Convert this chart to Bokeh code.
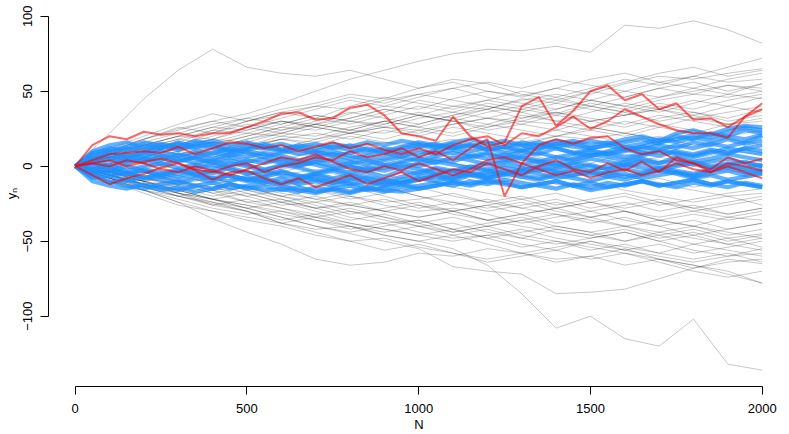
from bokeh.plotting import figure
from bokeh.models import Range1d, FixedTicker
from bokeh.embed import file_html
from bokeh.resources import INLINE

# step index grids
steps_100 = [0, 100, 200, 300, 400, 500, 600, 700, 800, 900, 1000,
             1100, 1200, 1300, 1400, 1500, 1600, 1700, 1800, 1900, 2000]
steps_50 = [0, 50, 100, 150, 200, 250, 300, 350, 400, 450, 500, 550, 600, 650,
            700, 750, 800, 850, 900, 950, 1000, 1050, 1100, 1150, 1200, 1250,
            1300, 1350, 1400, 1450, 1500, 1550, 1600, 1650, 1700, 1750, 1800,
            1850, 1900, 1950, 2000]

x_ticks = [0, 500, 1000, 1500, 2000]
y_ticks = [-100, -50, 0, 50, 100]

# grey walks (values read at every 100 steps)
gray_01 = [0, -6, -12, -20, -25, -30, -38, -42, -40, -46, -50, -55, -66, -85, -108, -100, -115, -120, -102, -132, -136]
gray_02 = [0, -5, -10, -18, -22, -28, -34, -40, -45, -50, -55, -67, -70, -72, -85, -84, -82, -75, -68, -62, -65]
gray_03 = [0, -8, -16, -24, -35, -44, -52, -62, -66, -64, -58, -60, -55, -58, -62, -60, -55, -62, -66, -72, -78]
gray_04 = [0, 22, 45, 64, 78, 66, 62, 60, 64, 58, 52, 56, 50, 46, 52, 58, 62, 56, 60, 66, 72]
gray_05 = [0, 10, 18, 25, 30, 35, 42, 50, 58, 64, 70, 75, 78, 77, 80, 76, 94, 92, 97, 91, 82]
gray_06 = [0, 8, 14, 20, 18, 26, 30, 28, 35, 40, 38, 45, 50, 47, 52, 48, 55, 60, 58, 62, 65]
gray_07 = [0, 6, 10, 16, 24, 22, 28, 34, 30, 36, 44, 40, 38, 45, 42, 50, 46, 52, 56, 50, 55]
gray_08 = [0, 10, 16, 22, 28, 32, 38, 42, 48, 45, 52, 58, 55, 48, 44, 50, 56, 62, 66, 60, 64]
gray_09 = [0, 4, 12, 18, 15, 20, 26, 24, 30, 28, 34, 30, 36, 40, 35, 42, 38, 44, 48, 46, 50]
gray_10 = [0, 12, 20, 28, 35, 30, 34, 40, 38, 44, 48, 52, 46, 42, 38, 44, 40, 36, 42, 48, 45]
gray_11 = [0, 6, 4, 10, 16, 14, 20, 18, 24, 22, 28, 34, 38, 32, 36, 30, 34, 38, 32, 36, 40]
gray_12 = [0, 2, 8, 14, 10, 16, 12, 18, 22, 26, 24, 20, 26, 30, 28, 24, 30, 26, 32, 28, 30]
gray_13 = [0, 8, 12, 10, 16, 22, 20, 26, 22, 18, 24, 28, 32, 30, 36, 32, 28, 34, 30, 26, 22]
gray_14 = [0, -2, 4, 8, 6, 12, 10, 6, 12, 16, 14, 18, 12, 16, 20, 18, 22, 18, 14, 18, 15]
gray_15 = [0, 4, 2, -4, 2, 6, 4, 10, 8, 4, 10, 6, 12, 8, 4, 8, 12, 8, 4, 10, 8]
gray_16 = [0, -4, -2, 4, 0, -6, -2, 2, -4, 0, 6, 2, -2, 4, 0, -4, 2, 6, 2, -2, 0]
gray_17 = [0, -6, -10, -6, -12, -8, -14, -10, -6, -12, -8, -4, -10, -6, -12, -16, -12, -8, -14, -10, -6]
gray_18 = [0, -4, -8, -14, -10, -16, -20, -16, -22, -18, -14, -20, -24, -20, -26, -22, -18, -24, -28, -24, -20]
gray_19 = [0, -8, -12, -18, -22, -18, -24, -28, -26, -30, -34, -30, -36, -32, -28, -34, -30, -36, -40, -34, -30]
gray_20 = [0, -6, -14, -20, -16, -24, -28, -34, -30, -36, -40, -38, -44, -48, -42, -46, -50, -44, -48, -52, -48]
gray_21 = [0, -10, -16, -22, -28, -32, -30, -36, -42, -38, -44, -48, -46, -52, -56, -50, -54, -58, -52, -56, -60]
gray_22 = [0, -4, -10, -16, -22, -26, -32, -36, -40, -44, -40, -46, -42, -48, -52, -48, -44, -50, -56, -60, -55]
gray_23 = [0, -8, -14, -12, -18, -24, -22, -28, -34, -38, -36, -42, -38, -34, -40, -44, -40, -46, -42, -48, -45]
gray_24 = [0, -6, -4, -10, -16, -14, -20, -24, -20, -26, -30, -28, -32, -38, -34, -30, -36, -40, -36, -42, -38]
gray_25 = [0, -2, -8, -12, -8, -14, -10, -16, -20, -24, -22, -18, -24, -28, -24, -30, -26, -22, -28, -32, -28]
gray_26 = [0, -10, -18, -26, -30, -36, -40, -46, -50, -48, -54, -58, -62, -58, -64, -60, -66, -62, -68, -64, -62]
gray_27 = [0, -6, -12, -18, -26, -30, -38, -44, -50, -56, -52, -58, -64, -60, -56, -62, -58, -64, -70, -74, -70]
gray_28 = [0, 6, 2, 8, 4, 0, -6, -2, -8, -12, -8, -14, -18, -22, -18, -24, -28, -24, -30, -34, -36]
gray_29 = [0, -4, 2, 6, 12, 8, 14, 10, 4, 0, 6, 2, -4, -8, -4, -10, -6, -12, -16, -20, -18]
gray_30 = [0, 8, 4, 10, 6, 12, 18, 14, 20, 16, 12, 8, 14, 10, 6, 2, 8, 4, 0, -4, -2]
gray_31 = [0, -4, -10, -6, -2, -8, -4, 2, -2, 4, 8, 12, 16, 14, 20, 24, 20, 26, 22, 28, 25]
gray_32 = [0, 4, 10, 6, 12, 18, 22, 28, 32, 38, 34, 40, 44, 40, 46, 52, 58, 54, 60, 56, 58]
gray_33 = [0, -6, -12, -10, -14, -20, -26, -24, -30, -34, -40, -44, -40, -46, -50, -54, -58, -62, -66, -70, -78]
gray_34 = [0, 6, 12, 8, 14, 20, 26, 32, 28, 34, 40, 36, 32, 38, 44, 40, 36, 30, 34, 28, 32]
gray_35 = [0, -4, -8, -12, -18, -14, -20, -26, -32, -28, -24, -30, -26, -32, -28, -24, -20, -26, -22, -18, -15]
gray_36 = [0, 6, 10, 14, 20, 26, 22, 28, 24, 30, 26, 22, 28, 24, 20, 26, 22, 18, 24, 20, 24]
gray_37 = [0, 10, 18, 26, 22, 30, 36, 32, 40, 46, 42, 38, 44, 50, 46, 40, 46, 52, 48, 54, 50]
gray_38 = [0, 8, 16, 14, 22, 28, 24, 30, 36, 32, 28, 34, 40, 36, 30, 36, 42, 38, 44, 40, 46]
gray_39 = [0, 6, 14, 20, 26, 24, 30, 26, 32, 38, 34, 30, 24, 28, 34, 30, 26, 32, 36, 32, 38]
gray_40 = [0, 4, 10, 16, 12, 18, 24, 28, 24, 30, 26, 32, 28, 34, 30, 26, 22, 28, 24, 18, 14]
gray_41 = [0, 10, 14, 20, 26, 32, 28, 34, 30, 26, 32, 36, 42, 38, 34, 40, 36, 42, 38, 44, 48]
gray_42 = [0, 6, 12, 18, 24, 30, 36, 40, 46, 42, 48, 44, 40, 36, 42, 38, 34, 40, 36, 30, 34]
gray_43 = [0, 2, 6, 12, 16, 12, 18, 22, 18, 24, 20, 26, 22, 18, 24, 20, 16, 20, 14, 10, 12]
gray_44 = [0, 8, 6, 12, 18, 16, 22, 20, 26, 30, 36, 32, 38, 44, 48, 44, 50, 46, 52, 58, 62]
gray_45 = [0, -8, -14, -20, -26, -22, -28, -32, -28, -34, -38, -34, -40, -36, -42, -46, -42, -48, -44, -50, -46]
gray_46 = [0, -6, -12, -16, -22, -28, -24, -30, -36, -32, -38, -44, -40, -36, -32, -38, -34, -40, -46, -42, -38]
gray_47 = [0, -10, -14, -18, -24, -30, -36, -32, -38, -42, -46, -50, -46, -42, -48, -52, -56, -52, -58, -54, -50]
gray_48 = [0, -4, -10, -14, -20, -16, -22, -28, -24, -30, -26, -32, -36, -32, -38, -34, -40, -36, -32, -36, -32]
gray_49 = [0, -8, -12, -16, -12, -18, -24, -20, -26, -22, -28, -24, -30, -26, -22, -28, -24, -30, -26, -32, -28]
gray_50 = [0, -6, -10, -16, -22, -26, -30, -34, -38, -42, -46, -42, -48, -54, -50, -56, -52, -58, -62, -58, -64]
gray_51 = [0, -2, -6, -10, -16, -20, -16, -22, -18, -14, -20, -26, -22, -28, -32, -36, -40, -44, -40, -46, -42]
gray_52 = [0, -8, -16, -20, -24, -28, -34, -40, -44, -40, -36, -42, -48, -44, -40, -44, -50, -46, -52, -48, -54]
gray_53 = [0, -4, -8, -4, -10, -14, -12, -18, -14, -20, -26, -30, -26, -22, -28, -24, -30, -34, -30, -26, -22]
gray_54 = [0, -6, -4, -10, -8, -14, -18, -22, -26, -30, -34, -30, -36, -40, -44, -48, -44, -50, -46, -52, -56]
gray_55 = [0, 4, 8, 4, 10, 14, 18, 16, 22, 26, 22, 28, 32, 28, 24, 30, 34, 38, 34, 40, 36]
gray_56 = [0, -4, 0, 6, 2, -4, -8, -12, -16, -14, -20, -24, -28, -24, -30, -34, -30, -36, -40, -44, -48]
gray_57 = [0, 6, 2, -2, 4, 8, 2, -4, 0, -6, -10, -6, -12, -8, -14, -10, -16, -20, -24, -20, -26]
gray_58 = [0, 8, 14, 12, 18, 24, 30, 26, 22, 28, 34, 30, 26, 32, 38, 44, 40, 46, 50, 54, 52]
gray_59 = [0, -10, -16, -24, -30, -34, -38, -34, -40, -46, -50, -46, -52, -58, -54, -50, -56, -60, -64, -60, -58]
gray_60 = [0, 12, 18, 24, 30, 26, 32, 38, 44, 40, 46, 52, 56, 52, 58, 54, 50, 56, 52, 48, 55]

# blue (bounded) walks, values read at every 50 steps
blue_01 = [0, 8, 12, 10, 14, 12, 16, 13, 15, 11, 14, 12, 10, 13, 15, 12, 14, 11, 9, 12, 14, 12, 15, 13, 16, 12, 14, 11, 15, 13, 12, 14, 16, 18, 15, 20, 18, 22, 20, 24, 22]
blue_02 = [0, 6, 4, 8, 6, 10, 7, 9, 5, 8, 6, 9, 7, 4, 6, 8, 5, 7, 9, 6, 10, 8, 11, 7, 9, 6, 10, 8, 12, 9, 7, 10, 13, 11, 14, 12, 16, 14, 18, 15, 17]
blue_03 = [0, 3, 6, 2, 5, 1, 4, 6, 3, 0, 4, 2, 5, 1, 3, 0, 2, 4, 1, 3, 5, 2, 6, 4, 1, 3, 6, 4, 2, 5, 8, 6, 4, 7, 10, 8, 6, 9, 12, 10, 8]
blue_04 = [0, -2, 1, -3, 0, 2, -1, 1, -2, 2, 0, -3, 1, -1, -4, -2, 0, -3, -1, 2, 0, 3, 1, -1, 2, 4, 1, 3, 0, 2, 5, 3, 1, 4, 2, 6, 3, 5, 8, 6, 4]
blue_05 = [0, -5, -3, -6, -2, -4, -7, -3, -5, -1, -4, -6, -3, -7, -5, -8, -6, -4, -7, -3, -5, -2, -4, -1, -3, -5, -2, 0, -3, -1, 1, -2, 0, 2, -1, 1, 3, 0, 2, -1, 1]
blue_06 = [0, -8, -6, -10, -7, -9, -12, -8, -10, -6, -9, -11, -8, -12, -10, -13, -11, -14, -10, -12, -9, -7, -10, -6, -8, -5, -7, -9, -6, -8, -10, -7, -5, -8, -6, -4, -7, -5, -3, -6, -4]
blue_07 = [0, -10, -13, -15, -12, -14, -16, -13, -15, -12, -14, -16, -15, -17, -14, -16, -18, -15, -17, -14, -13, -11, -13, -10, -12, -9, -11, -13, -15, -12, -14, -11, -13, -10, -12, -14, -11, -13, -10, -12, -14]
blue_08 = [0, 10, 14, 16, 12, 15, 13, 17, 14, 10, 12, 15, 11, 8, 10, 7, 9, 12, 10, 13, 16, 14, 12, 15, 11, 13, 16, 14, 17, 15, 12, 14, 11, 13, 16, 18, 21, 19, 23, 26, 24]
blue_09 = [0, 4, 8, 5, 9, 7, 3, 6, 9, 7, 10, 8, 4, 2, 5, 3, 0, -2, 1, -1, 2, 5, 3, 7, 5, 8, 5, 3, 6, 4, 7, 9, 6, 8, 11, 9, 7, 10, 8, 12, 10]
blue_10 = [0, -3, -7, -4, -8, -5, -2, -6, -3, -7, -10, -8, -11, -9, -6, -9, -12, -10, -13, -11, -8, -10, -7, -5, -8, -6, -3, -5, -8, -6, -4, -7, -9, -6, -3, -5, -8, -6, -9, -7, -5]
blue_11 = [0, 2, -2, 3, 6, 4, 8, 5, 2, 4, 1, -2, 0, 3, 1, -2, -4, -1, -3, 0, -2, -5, -3, -6, -4, -1, -3, 0, 2, -1, -3, 0, 3, 5, 2, 4, 1, 3, 5, 2, 0]
blue_12 = [0, -6, -10, -13, -15, -12, -10, -13, -11, -15, -13, -10, -13, -16, -18, -15, -17, -14, -16, -17, -15, -13, -10, -12, -9, -11, -14, -12, -10, -13, -16, -14, -12, -10, -13, -11, -9, -12, -14, -11, -13]
blue_13 = [0, 7, 10, 6, 9, 12, 15, 11, 8, 12, 9, 6, 9, 11, 8, 10, 7, 4, 6, 9, 7, 11, 13, 10, 12, 9, 11, 14, 12, 9, 11, 8, 10, 13, 11, 14, 12, 15, 13, 16, 20]
blue_14 = [0, -1, -4, 0, -3, -6, -4, -1, 1, -2, -5, -3, -6, -8, -5, -3, -6, -8, -10, -7, -4, -1, -3, 0, -2, 1, -1, -3, -1, 2, 0, -2, 1, -1, -3, 0, 2, -1, 1, 3, 0]
blue_15 = [0, -7, -11, -9, -13, -16, -14, -17, -15, -12, -15, -13, -16, -14, -17, -15, -13, -16, -14, -12, -15, -13, -11, -13, -10, -12, -14, -12, -10, -13, -11, -14, -12, -10, -13, -11, -9, -12, -10, -12, -14]
blue_16 = [0, 5, 9, 12, 10, 13, 11, 14, 12, 9, 11, 13, 15, 12, 10, 13, 11, 9, 12, 10, 13, 15, 12, 14, 11, 13, 10, 12, 15, 17, 14, 16, 13, 15, 18, 16, 19, 17, 20, 18, 21]
blue_17 = [0, 1, -2, -5, -3, -7, -9, -6, -8, -10, -7, -9, -12, -10, -8, -11, -9, -7, -9, -11, -9, -6, -8, -5, -7, -4, -6, -8, -5, -3, -6, -4, -7, -5, -2, -4, -6, -3, -1, -4, -2]
blue_18 = [0, 3, 1, 5, 3, 7, 5, 2, 4, 6, 3, 5, 2, 0, 3, 5, 3, 1, 4, 6, 4, 7, 9, 6, 8, 5, 7, 9, 6, 8, 10, 8, 11, 9, 7, 10, 8, 11, 9, 12, 14]
blue_19 = [0, -4, -1, -5, -8, -6, -3, -5, -8, -6, -9, -7, -4, -6, -9, -11, -8, -10, -12, -9, -7, -5, -7, -4, -6, -3, -5, -2, -4, -6, -3, -5, -2, -4, -1, -3, -5, -2, 0, -2, -4]
blue_20 = [0, 9, 11, 13, 16, 14, 12, 15, 17, 14, 16, 13, 11, 14, 12, 15, 13, 16, 14, 17, 15, 13, 16, 18, 15, 17, 14, 16, 13, 15, 17, 15, 18, 20, 17, 22, 24, 21, 25, 27, 26]

# red walks, values read at every 50 steps
red_1 = [0, 14, 20, 18, 23, 21, 22, 20, 22, 22, 26, 30, 35, 36, 31, 32, 39, 41, 34, 22, 20, 17, 33, 20, 13, 16, 40, 46, 27, 37, 50, 54, 44, 48, 38, 42, 31, 32, 26, 33, 42]
red_2 = [0, 4, 8, 9, 10, 9, 13, 8, 12, 16, 15, 12, 14, 10, 13, 16, 12, 15, 11, 8, 12, 8, 14, 18, 20, 14, 22, 20, 26, 33, 25, 30, 38, 33, 28, 24, 22, 22, 19, 33, 38]
red_3 = [0, 2, 4, 0, 3, 5, 2, -2, -4, 0, 2, -4, 0, 2, 6, 4, 10, 6, 8, 12, 6, 10, 4, 12, 18, -20, 2, 14, 18, 15, 19, 20, 12, 8, 10, 4, 2, -2, 6, 2, 5]
red_4 = [0, -6, -12, -8, -5, -1, 2, -3, -9, -4, -3, -8, -12, -8, -14, -10, -6, -12, -8, -4, -10, -6, -2, -4, 2, -2, -6, 0, 4, -2, -4, 2, -3, 3, -4, 6, 2, -4, 0, -4, -8]
red_5 = [0, 2, 0, 4, 2, -2, -4, 0, -3, -6, -2, 2, 6, 4, 8, 3, -2, -4, 0, -3, 2, -2, -6, -2, 4, 6, 2, -2, -6, -3, -8, -4, -2, -6, -3, 2, -2, -4, 2, 0, -3]

gray_walks = [gray_01, gray_02, gray_03, gray_04, gray_05, gray_06, gray_07, gray_08,
              gray_09, gray_10, gray_11, gray_12, gray_13, gray_14, gray_15, gray_16,
              gray_17, gray_18, gray_19, gray_20, gray_21, gray_22, gray_23, gray_24,
              gray_25, gray_26, gray_27, gray_28, gray_29, gray_30, gray_31, gray_32,
              gray_33, gray_34, gray_35, gray_36, gray_37, gray_38, gray_39, gray_40,
              gray_41, gray_42, gray_43, gray_44, gray_45, gray_46, gray_47, gray_48,
              gray_49, gray_50, gray_51, gray_52, gray_53, gray_54, gray_55, gray_56,
              gray_57, gray_58, gray_59, gray_60]
blue_walks = [blue_01, blue_02, blue_03, blue_04, blue_05, blue_06, blue_07,
              blue_08, blue_09, blue_10, blue_11, blue_12, blue_13, blue_14,
              blue_15, blue_16, blue_17, blue_18, blue_19, blue_20]
red_walks = [red_1, red_2, red_3, red_4, red_5]

FONT = "Liberation Sans"

p = figure(width=789, height=434,
           x_range=Range1d(-77.7, 2079.5), y_range=Range1d(-146.9, 110.5),
           output_backend="svg", toolbar_location=None,
           min_border_left=48, min_border_right=0, min_border_top=0,
           min_border_bottom=48,
           background_fill_color="white", border_fill_color="white")
p.outline_line_color = None
p.grid.visible = False

for ys in gray_walks:
    p.line(steps_100, ys, line_color="black", line_alpha=0.22, line_width=1)
for ys in blue_walks:
    p.line(steps_50, ys, line_color="#1E90FF", line_alpha=0.7, line_width=4)
for ys in red_walks:
    p.line(steps_50, ys, line_color="red", line_alpha=0.6, line_width=2)

xa = p.xaxis[0]
xa.ticker = FixedTicker(ticks=x_ticks)
xa.bounds = (x_ticks[0], x_ticks[-1])
xa.axis_label = "N"
xa.major_label_standoff = 9
xa.axis_label_standoff = 1
ya = p.yaxis[0]
ya.ticker = FixedTicker(ticks=y_ticks)
ya.bounds = (y_ticks[0], y_ticks[-1])
ya.axis_label = "yₙ"
ya.major_label_orientation = "vertical"
ya.major_label_standoff = 8
ya.axis_label_standoff = 2

for ax in (xa, ya):
    ax.minor_tick_line_color = None
    ax.major_tick_in = 0
    ax.major_tick_out = 8
    ax.axis_line_color = "black"
    ax.major_tick_line_color = "black"
    ax.major_label_text_font = FONT
    ax.major_label_text_font_size = "13px"
    ax.major_label_text_color = "black"
    ax.axis_label_text_font = FONT
    ax.axis_label_text_font_size = "13px"
    ax.axis_label_text_font_style = "normal"
    ax.axis_label_text_color = "black"

open("out.html", "w").write(file_html(p, INLINE))
